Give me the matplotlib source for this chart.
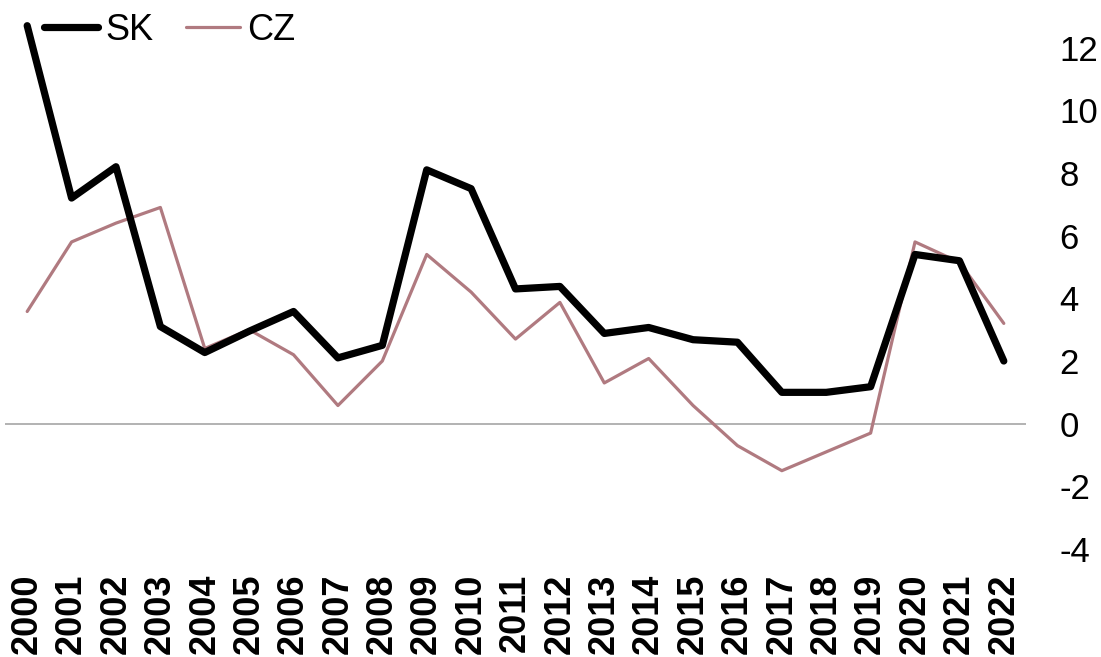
import matplotlib
matplotlib.use("Agg")
import matplotlib.pyplot as plt

plt.rcParams['font.family'] = ['Liberation Sans', 'DejaVu Sans']

years = [str(y) for y in range(2000, 2023)]
sk = [12.7, 7.2, 8.2, 3.1, 2.27, 2.95, 3.58, 2.1, 2.5, 8.1, 7.5, 4.3, 4.38,
      2.88, 3.07, 2.68, 2.6, 1.0, 1.0, 1.18, 5.4, 5.2, 2.0]
cz = [3.58, 5.8, 6.4, 6.9, 2.4, 3.0, 2.2, 0.58, 2.0, 5.4, 4.2, 2.7, 3.87,
      1.3, 2.08, 0.58, -0.7, -1.5, -0.9, -0.3, 5.8, 5.15, 3.2]
yticks = [-4, -2, 0, 2, 4, 6, 8, 10, 12]

W, H = 1101, 657
fig = plt.figure(figsize=(W / 100, H / 100), dpi=100)
ax = fig.add_axes([5 / W, (H - 560) / H, 1021 / W, 560 / H])

x = list(range(len(years)))
ax.axhline(0, color='#a6a6a6', lw=1.2, zorder=1)
ax.plot(x, cz, color='#b07a80', lw=2.3, label='CZ', zorder=2,
        solid_joinstyle='round', solid_capstyle='round')
ax.plot(x, sk, color='black', lw=5.2, label='SK', zorder=3,
        solid_joinstyle='round', solid_capstyle='round')

ax.set_xlim(-0.5, len(years) - 0.5)
ax.set_ylim(-4.35, 13.52)
ax.set_xticks(x)
ax.set_xticklabels(years, rotation=90, fontsize=26, fontweight='bold')
ax.set_yticks(yticks)
ax.set_yticklabels([str(t) for t in yticks], fontsize=25, ha='left')
ax.yaxis.tick_right()
ax.tick_params(axis='y', length=0, pad=24)
ax.tick_params(axis='x', length=0, pad=10)
for s in ax.spines.values():
    s.set_visible(False)

h, l = ax.get_legend_handles_labels()
fig.legend(h[::-1], l[::-1], loc='center left', bbox_to_anchor=(44 / W, 1 - 30 / H),
           ncol=2, frameon=False, fontsize=26, handlelength=1.5, handletextpad=0.2,
           columnspacing=0.9, borderpad=0, borderaxespad=0)

fig.savefig('out.png', dpi=100)
